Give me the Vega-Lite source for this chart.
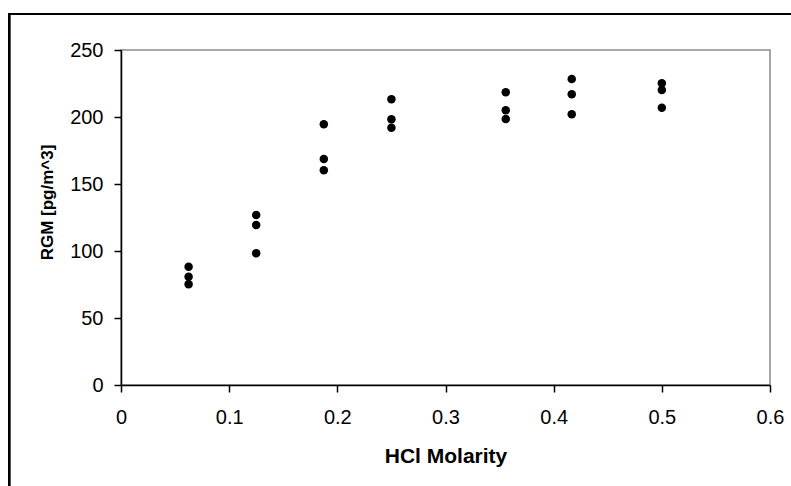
{
  "$schema": "https://vega.github.io/schema/vega-lite/v6.json",
  "width": 649,
  "height": 335,
  "autosize": {"type": "none"},
  "padding": {"left": 121, "top": 50, "right": 21, "bottom": 101},
  "background": "white",
  "config": {
    "font": "Liberation Sans",
    "view": {"stroke": "#8c8c8c", "strokeWidth": 1.5},
    "axis": {
      "grid": false,
      "domainColor": "black",
      "domainWidth": 1.5,
      "tickColor": "black",
      "tickWidth": 1.5,
      "tickSize": 7,
      "labelColor": "black",
      "labelFont": "Liberation Sans",
      "labelFontSize": 20,
      "titleColor": "black",
      "titleFont": "Liberation Sans",
      "titleFontWeight": "bold"
    }
  },
  "data": {
    "values": [
      {"m": 0.0625, "rgm": 88.3},
      {"m": 0.0625, "rgm": 80.8},
      {"m": 0.0625, "rgm": 75.1},
      {"m": 0.125, "rgm": 126.9},
      {"m": 0.125, "rgm": 119.4},
      {"m": 0.125, "rgm": 98.3},
      {"m": 0.1875, "rgm": 194.6},
      {"m": 0.1875, "rgm": 168.7},
      {"m": 0.1875, "rgm": 160.2},
      {"m": 0.25, "rgm": 213.2},
      {"m": 0.25, "rgm": 198.3},
      {"m": 0.25, "rgm": 192.0},
      {"m": 0.3557, "rgm": 218.4},
      {"m": 0.3557, "rgm": 205.0},
      {"m": 0.3557, "rgm": 198.5},
      {"m": 0.4167, "rgm": 228.4},
      {"m": 0.4167, "rgm": 216.9},
      {"m": 0.4167, "rgm": 202.0},
      {"m": 0.5, "rgm": 225.1},
      {"m": 0.5, "rgm": 220.1},
      {"m": 0.5, "rgm": 206.9}
    ]
  },
  "layer": [
    {
      "mark": {"type": "rect", "fill": null, "fillOpacity": 0, "stroke": "black", "strokeWidth": 2, "clip": false},
      "encoding": {
        "x": {"datum": -0.1035, "type": "quantitative"},
        "x2": {"datum": 1.2},
        "y": {"datum": 276.9, "type": "quantitative"},
        "y2": {"datum": -150}
      }
    },
    {
      "mark": {"type": "point", "filled": true, "color": "black", "opacity": 1, "size": 72},
      "encoding": {
        "x": {
          "field": "m",
          "type": "quantitative",
          "title": "HCl Molarity",
          "scale": {"domain": [0, 0.6], "nice": false},
          "axis": {
            "values": [0, 0.1, 0.2, 0.3, 0.4, 0.5, 0.6],
            "format": "~g",
            "labelPadding": 15,
            "labelFlush": false,
            "titleFontSize": 21,
            "titleBaseline": "alphabetic",
            "titleY": 77
          }
        },
        "y": {
          "field": "rgm",
          "type": "quantitative",
          "title": "RGM [pg/m^3]",
          "scale": {"domain": [0, 250], "nice": false},
          "axis": {
            "values": [0, 50, 100, 150, 200, 250],
            "labelPadding": 11,
            "titleFontSize": 17,
            "titleBaseline": "alphabetic",
            "titleX": -69,
            "titleY": 152
          }
        }
      }
    }
  ]
}
